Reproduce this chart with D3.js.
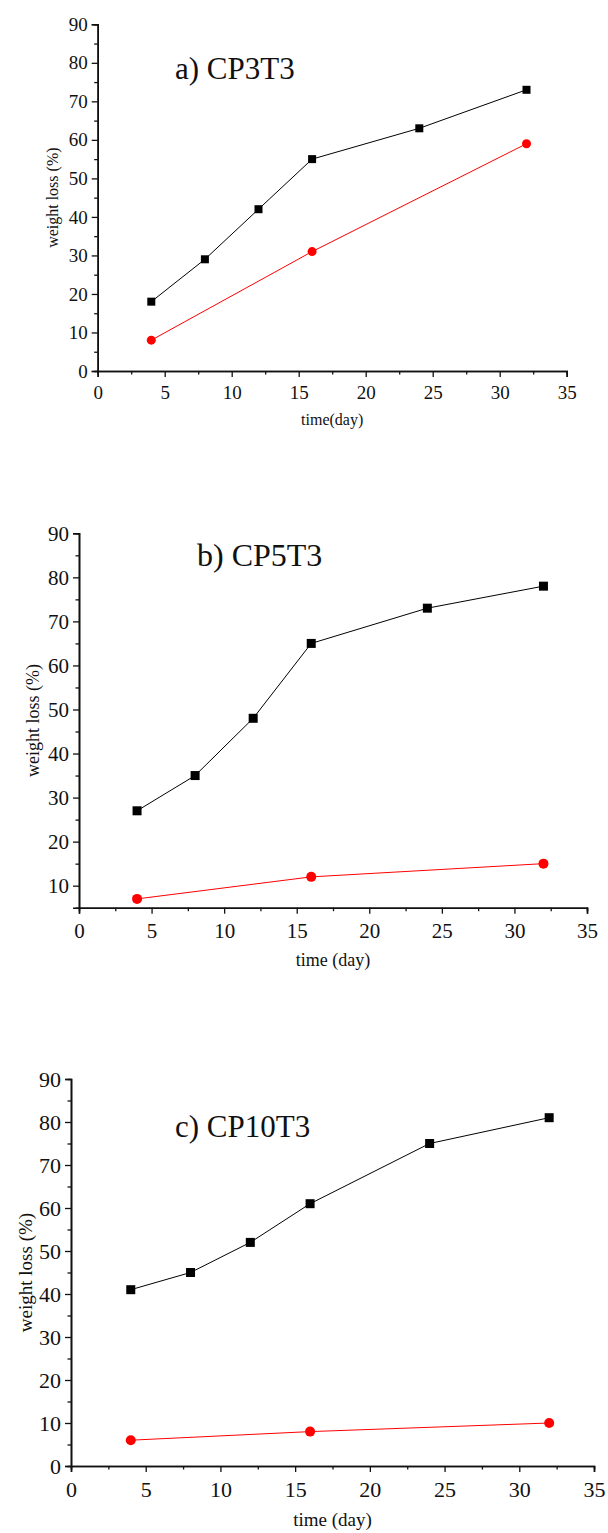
<!DOCTYPE html>
<html>
<head>
<meta charset="utf-8">
<script src="https://cdn.jsdelivr.net/npm/d3@7"></script>
<style>
	body { margin: 0; background: #fff; }
	svg text { font-family: "Liberation Serif", "Times New Roman", Times, serif; fill: #111; }
</style>
</head>
<body>
<svg id="chart" width="608" height="1533"></svg>
<script>
// data
var daysBlack = [4, 8, 12, 16, 24, 32];
var daysRed = [4, 16, 32];

var lossBlackA = [18, 29, 42, 55, 63, 73];
var lossRedA = [8, 31, 59];
var lossBlackB = [27, 35, 48, 65, 73, 78];
var lossRedB = [7, 12, 15];
var lossBlackC = [41, 45, 52, 61, 75, 81];
var lossRedC = [6, 8, 10];

var titles = ['a) CP3T3', 'b) CP5T3', 'c) CP10T3'];
var xLabels = ['time(day)', 'time (day)', 'time (day)'];
var yLabel = 'weight loss (%)';
var xTicks = [0, 5, 10, 15, 20, 25, 30, 35];
var xMinor = [2.5, 7.5, 12.5, 17.5, 22.5, 27.5, 32.5];

var red = '#ff0000';
var serif = '"Liberation Serif", "Times New Roman", Times, serif';

var panels = [
	{ black: lossBlackA, red: lossRedA, title: titles[0], xLabel: xLabels[0],
		left: 97.7, right: 566.7, top: 24.3, bottom: 371, yMin: 0,
		tickFont: 19, labelFont: 16, titleFont: 31, titleX: 175, titleY: 79,
		yLabelX: 52, xLabelY: 425, sq: 8, r: 4.5 },
	{ black: lossBlackB, red: lossRedB, title: titles[1], xLabel: xLabels[1],
		left: 79, right: 587, top: 533.3, bottom: 907.7, yMin: 5,
		tickFont: 21, labelFont: 18, titleFont: 32, titleX: 197, titleY: 566,
		yLabelX: 33, xLabelY: 966, sq: 9, r: 5 },
	{ black: lossBlackC, red: lossRedC, title: titles[2], xLabel: xLabels[2],
		left: 71, right: 594, top: 1079, bottom: 1466, yMin: 0,
		tickFont: 22, labelFont: 19, titleFont: 31, titleX: 175, titleY: 1137,
		yLabelX: 25, xLabelY: 1526, sq: 9, r: 5 }
];

var svg = d3.select('#chart');

panels.forEach(function (p) {
	drawPanel(p);
});

function drawPanel(p) {
	var g = svg.append('g');
	var xScale = d3.scaleLinear().domain([0, 35]).range([p.left, p.right]);
	var yScale = d3.scaleLinear().domain([p.yMin, 90]).range([p.bottom, p.top]);

	var yTicks = d3.range(p.yMin === 0 ? 0 : 10, 91, 10);
	var yMinor = d3.range(5, 90, 10).filter(function (v) { return v > p.yMin; });

	// minor ticks first
	g.append('g')
		.attr('transform', 'translate(0,' + p.bottom + ')')
		.call(d3.axisBottom(xScale).tickValues(xMinor).tickSize(3.5).tickFormat(''))
		.call(styleAxis, p);
	g.append('g')
		.attr('transform', 'translate(' + p.left + ',0)')
		.call(d3.axisLeft(yScale).tickValues(yMinor).tickSize(3.5).tickFormat(''))
		.call(styleAxis, p);

	var xAxis = g.append('g')
		.attr('transform', 'translate(0,' + p.bottom + ')')
		.call(d3.axisBottom(xScale).tickValues(xTicks).tickSize(6).tickPadding(4).tickFormat(d3.format('d')))
		.call(styleAxis, p);
	xAxis.selectAll('text').attr('dy', '0.95em');

	g.append('g')
		.attr('transform', 'translate(' + p.left + ',0)')
		.call(d3.axisLeft(yScale).tickValues(yTicks).tickSize(6).tickPadding(4).tickFormat(d3.format('d')))
		.call(styleAxis, p);

	// axis titles
	g.append('text')
		.attr('x', (p.left + p.right) / 2)
		.attr('y', p.xLabelY)
		.attr('text-anchor', 'middle')
		.style('font-family', serif)
		.style('font-size', p.labelFont + 'px')
		.text(p.xLabel);
	g.append('text')
		.attr('transform', 'translate(' + p.yLabelX + ',' + ((p.top + p.bottom) / 2) + ') rotate(-90)')
		.attr('text-anchor', 'middle')
		.attr('dy', '0.35em')
		.style('font-family', serif)
		.style('font-size', p.labelFont + 'px')
		.text(yLabel);

	g.append('text')
		.attr('x', p.titleX)
		.attr('y', p.titleY)
		.style('font-family', serif)
		.style('font-size', p.titleFont + 'px')
		.text(p.title);

	var blackPts = daysBlack.map(function (d, i) { return { x: d, y: p.black[i] }; });
	var redPts = daysRed.map(function (d, i) { return { x: d, y: p.red[i] }; });

	var line = d3.line()
		.x(function (d) { return xScale(d.x); })
		.y(function (d) { return yScale(d.y); });

	g.append('path').datum(blackPts)
		.attr('d', line).attr('fill', 'none').attr('stroke', '#000').attr('stroke-width', 1);
	g.append('path').datum(redPts)
		.attr('d', line).attr('fill', 'none').attr('stroke', red).attr('stroke-width', 1);

	g.selectAll('rect.pt').data(blackPts).enter().append('rect')
		.attr('class', 'pt')
		.attr('x', function (d) { return xScale(d.x) - p.sq / 2; })
		.attr('y', function (d) { return yScale(d.y) - p.sq / 2; })
		.attr('width', p.sq)
		.attr('height', p.sq)
		.attr('fill', '#000');
	g.selectAll('circle.pt').data(redPts).enter().append('circle')
		.attr('class', 'pt')
		.attr('cx', function (d) { return xScale(d.x); })
		.attr('cy', function (d) { return yScale(d.y); })
		.attr('r', p.r)
		.attr('fill', red);
}

function styleAxis(sel, p) {
	sel.attr('font-family', serif);
	sel.select('.domain').attr('stroke', '#111').attr('stroke-width', 1.6);
	sel.selectAll('.tick line').attr('stroke', '#111').attr('stroke-width', 1.3);
	sel.selectAll('.tick text')
		.style('font-family', serif)
		.style('font-size', p.tickFont + 'px')
		.attr('fill', '#111');
}
</script>
</body>
</html>
